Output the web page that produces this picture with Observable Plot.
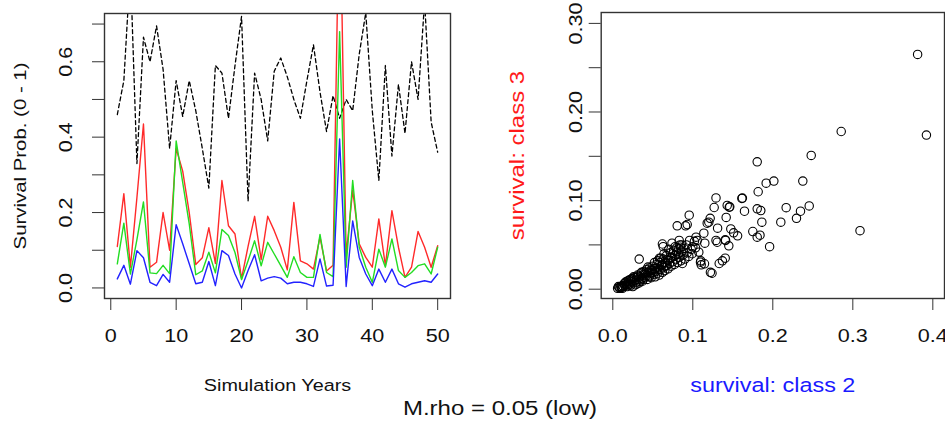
<!DOCTYPE html>
<html>
<head>
<meta charset="utf-8">
<script src="https://cdn.jsdelivr.net/npm/d3@7"></script>
<script src="https://cdn.jsdelivr.net/npm/@observablehq/plot@0.6"></script>
<style>
  html, body { margin: 0; padding: 0; background: #fff; }
  #wrap { position: relative; width: 945px; height: 423px; overflow: hidden; background: #fff;
          font-family: "Liberation Sans", Arial, sans-serif; }
  #wrap svg { position: absolute; top: 0; }
  #caption { position: absolute; left: 500px; top: 408px; font-size: 20px; color: #111;
             transform: translate(-50%, -50%) scaleX(1.2); white-space: nowrap; }
</style>
</head>
<body>
<div id="wrap"><div id="caption">M.rho = 0.05 (low)</div></div>
<script>
// ---------- data: left panel (time series) ----------
const years = [1,2,3,4,5,6,7,8,9,10,11,12,13,14,15,16,17,18,19,20,
               21,22,23,24,25,26,27,28,29,30,31,32,33,34,35,36,37,38,39,40,
               41,42,43,44,45,46,47,48,49,50];
const blackSeries = [0.46,0.55,0.85,0.33,0.665,0.60,0.695,0.58,0.37,0.55,
                     0.455,0.55,0.47,0.37,0.265,0.59,0.57,0.45,0.59,0.72,
                     0.23,0.57,0.50,0.39,0.575,0.61,0.56,0.50,0.45,0.55,
                     0.645,0.52,0.415,0.51,0.45,0.50,0.47,0.62,0.73,0.47,
                     0.285,0.59,0.35,0.54,0.41,0.60,0.50,0.76,0.44,0.36];
const redSeries = [0.11,0.25,0.055,0.24,0.435,0.055,0.068,0.20,0.10,0.37,
                   0.31,0.20,0.062,0.08,0.16,0.065,0.285,0.165,0.143,0.025,
                   0.11,0.19,0.075,0.19,0.152,0.108,0.048,0.227,0.072,0.064,
                   0.05,0.135,0.045,0.06,1.1,0.085,0.26,0.117,0.081,0.055,
                   0.183,0.059,0.205,0.108,0.028,0.055,0.15,0.108,0.055,0.112];
const greenSeries = [0.064,0.172,0.037,0.128,0.228,0.04,0.038,0.06,0.038,0.39,
                     0.28,0.17,0.035,0.045,0.095,0.04,0.155,0.139,0.094,0.022,
                     0.072,0.125,0.059,0.121,0.09,0.059,0.028,0.083,0.041,0.028,
                     0.028,0.142,0.041,0.03,0.68,0.055,0.285,0.108,0.055,0.015,
                     0.103,0.055,0.13,0.046,0.028,0.041,0.059,0.064,0.037,0.108];
const blueSeries = [0.024,0.06,0.01,0.099,0.08,0.015,0.006,0.036,0.015,0.168,
                    0.117,0.064,0.011,0.015,0.07,0.006,0.099,0.086,0.037,0.0,
                    0.046,0.088,0.019,0.026,0.03,0.026,0.011,0.015,0.015,0.011,
                    0.004,0.077,0.005,0.007,0.395,0.004,0.178,0.081,0.037,0.006,
                    0.05,0.015,0.05,0.011,0.002,0.011,0.015,0.019,0.015,0.037];

const leftXTicks = [0,10,20,30,40,50];
const leftYTicks = [0,0.1,0.2,0.3,0.4,0.5,0.6,0.7];
const leftYLabels = [0,0.2,0.4,0.6];

// ---------- data: right panel (scatter) ----------
const class2X = [0.381,0.392,0.2855,0.309,0.248,0.2375,0.2455,0.2346,0.2296,0.2167,
  0.21,0.2013,0.1917,0.1805,0.1817,0.1805,0.185,0.1863,0.175,0.1805,
  0.184,0.196,0.1646,0.1613,0.162,0.1455,0.1462,0.1417,0.1475,0.151,
  0.156,0.129,0.1267,0.131,0.129,0.1405,0.145,0.1405,0.133,0.124,
  0.1217,0.118,0.1138,0.115,0.1146,0.1105,0.104,0.102,0.0955,0.093,
  0.091,0.0805,0.1075,0.1034,0.0992,0.1096,0.063,0.074,0.0825,0.0584,
  0.033,0.143,0.12,0.1055,0.1305,0.141,0.062,0.122,0.137,0.11,0.0846,
  0.006,0.008,0.009,0.010,0.011,0.012,0.013,0.014,0.015,0.016,
  0.017,0.018,0.019,0.020,0.021,0.022,0.023,0.024,0.025,0.026,
  0.027,0.028,0.029,0.030,0.031,0.032,0.033,0.034,0.035,0.036,
  0.037,0.038,0.039,0.040,0.041,0.042,0.043,0.044,0.045,0.046,
  0.047,0.048,0.049,0.050,0.051,0.052,0.053,0.054,0.055,0.056,
  0.057,0.058,0.059,0.060,0.061,0.062,0.063,0.064,0.065,0.066,
  0.067,0.068,0.069,0.070,0.071,0.072,0.073,0.074,0.075,0.076,
  0.077,0.078,0.079,0.080,0.081,0.082,0.083,0.084,0.085,0.086,
  0.087,0.088,0.089,0.090,0.092,0.093,0.095,0.096,0.098,0.100,
  0.007,0.012,0.015,0.018,0.020,0.022,0.025,0.027,0.030,0.032,
  0.034,0.036,0.038,0.040,0.042,0.044,0.046,0.048,0.050,0.052,
  0.054,0.056,0.058,0.060,0.062,0.064,0.066,0.068,0.070,0.072,
  0.075,0.078,0.080,0.083,0.086];
const class3Y = [0.265,0.174,0.178,0.066,0.151,0.122,0.094,0.088,0.080,0.092,
  0.0756,0.122,0.1197,0.1438,0.11,0.0907,0.0888,0.0756,0.0651,0.0587,
  0.061,0.048,0.088,0.1024,0.1028,0.0925,0.093,0.081,0.068,0.0636,
  0.0602,0.103,0.0922,0.0689,0.055,0.0557,0.049,0.035,0.029,0.018,
  0.080,0.0745,0.0632,0.052,0.0287,0.0275,0.0587,0.054,0.0835,0.073,
  0.0715,0.0715,0.0418,0.0467,0.04,0.0305,0.048,0.052,0.0456,0.035,
  0.034,0.0945,0.0756,0.055,0.053,0.055,0.051,0.019,0.032,0.032,0.0474,
  0.001,0.002,0.001,0.003,0.002,0.004,0.003,0.006,0.004,0.008,
  0.005,0.003,0.007,0.010,0.006,0.004,0.009,0.012,0.007,0.014,
  0.010,0.005,0.008,0.013,0.016,0.011,0.007,0.014,0.018,0.012,
  0.009,0.016,0.020,0.013,0.017,0.022,0.011,0.019,0.015,0.024,
  0.018,0.013,0.021,0.026,0.017,0.023,0.014,0.020,0.028,0.018,
  0.024,0.016,0.030,0.022,0.027,0.019,0.034,0.025,0.021,0.030,
  0.038,0.027,0.023,0.033,0.029,0.041,0.026,0.036,0.031,0.044,
  0.028,0.038,0.034,0.047,0.030,0.040,0.036,0.050,0.032,0.043,
  0.029,0.039,0.046,0.034,0.050,0.041,0.037,0.055,0.045,0.048,
  0.003,0.001,0.007,0.009,0.005,0.011,0.003,0.013,0.006,0.015,
  0.009,0.019,0.011,0.018,0.015,0.025,0.014,0.022,0.019,0.030,
  0.024,0.032,0.022,0.035,0.028,0.040,0.026,0.033,0.045,0.035,
  0.040,0.048,0.042,0.055,0.050];

const rightXTicks = [0,0.1,0.2,0.3,0.4];
const rightYTicks = [0,0.05,0.1,0.15,0.2,0.25,0.3];
const rightYLabels = [0,0.1,0.2,0.3];

// ---------- rendering ----------
const FONT = "'Liberation Sans', Arial, sans-serif";
const INK = "#111";
const FRAME = "#333";
const STRETCH = 1.2;

// widen glyphs along the text direction (the reference font is wider than Arial)
function stretchText(svg, s) {
  svg.querySelectorAll("text").forEach(t => {
    if (!t.textContent.trim()) return;
    let tr = t.getAttribute("transform") || "";
    const x = t.getAttribute("x"), y = t.getAttribute("y");
    const num = v => v !== null && v !== "" && !/[a-z%]/i.test(v);
    if (num(x)) {
      if (num(y)) { tr += ` translate(${x},${y})`; t.removeAttribute("y"); }
      else tr += ` translate(${x},0)`;
      t.removeAttribute("x");
    } else if (num(y)) {
      tr += ` translate(0,${y})`; t.removeAttribute("y");
    }
    t.setAttribute("transform", (tr + ` scale(${s},1)`).trim());
  });
}

const left = Plot.plot({
  width: 470, height: 423,
  marginLeft: 104, marginRight: 20, marginTop: 13, marginBottom: 125,
  x: {domain: [-0.96, 51.96]},
  y: {domain: [-0.028, 0.728]},
  style: {fontFamily: FONT, color: INK, background: "transparent"},
  marks: [
    Plot.lineY(blackSeries, {x: years, stroke: "#000", strokeWidth: 1.3, strokeDasharray: "4,3", clip: true}),
    Plot.lineY(redSeries, {x: years, stroke: "#ff2a2a", strokeWidth: 1.4, clip: true}),
    Plot.lineY(greenSeries, {x: years, stroke: "#22dd22", strokeWidth: 1.4, clip: true}),
    Plot.lineY(blueSeries, {x: years, stroke: "#2222ff", strokeWidth: 1.4, clip: true}),
    Plot.frame({stroke: FRAME, strokeWidth: 1.4}),
    Plot.axisX({ticks: leftXTicks, tickSize: 12, tickFormat: () => "", label: null, stroke: FRAME}),
    Plot.axisY({ticks: leftYTicks, tickSize: 12, tickFormat: () => "", label: null, stroke: FRAME}),
    Plot.text(leftXTicks, {x: d => d, text: d => String(d), frameAnchor: "bottom", dy: 38,
                           lineAnchor: "middle", fontSize: 18, fill: INK}),
    Plot.text(leftYLabels, {y: d => d, text: d => d.toFixed(1), frameAnchor: "left", dx: -38,
                            rotate: -90, textAnchor: "middle", lineAnchor: "middle", fontSize: 18, fill: INK}),
    Plot.text(["Simulation Years"], {frameAnchor: "bottom", dy: 87, lineAnchor: "middle", fontSize: 16.5, fill: INK}),
    Plot.text(["Survival Prob. (0 - 1)"], {frameAnchor: "left", dx: -84, rotate: -90,
                                          textAnchor: "middle", lineAnchor: "middle", fontSize: 17, fill: INK})
  ]
});
left.style.left = "0px";
stretchText(left, STRETCH);

const right = Plot.plot({
  width: 475, height: 423,
  marginLeft: 130.7, marginRight: 1, marginTop: 12, marginBottom: 125,
  x: {domain: [-0.0145, 0.4146]},
  y: {domain: [-0.0105, 0.3123]},
  style: {fontFamily: FONT, color: INK, background: "transparent"},
  marks: [
    Plot.dot(class2X, {x: d => d, y: (d, i) => class3Y[i], r: 4.2, stroke: "#000", strokeWidth: 1.1, fill: "none"}),
    Plot.frame({stroke: FRAME, strokeWidth: 1.4}),
    Plot.axisX({ticks: rightXTicks, tickSize: 12, tickFormat: () => "", label: null, stroke: FRAME}),
    Plot.axisY({ticks: rightYTicks, tickSize: 12, tickFormat: () => "", label: null, stroke: FRAME}),
    Plot.text(rightXTicks, {x: d => d, text: d => d.toFixed(1), frameAnchor: "bottom", dy: 38,
                            lineAnchor: "middle", fontSize: 18, fill: INK}),
    Plot.text(rightYLabels, {y: d => d, text: d => d.toFixed(2), frameAnchor: "left", dx: -25,
                             rotate: -90, textAnchor: "middle", lineAnchor: "middle", fontSize: 18, fill: INK}),
    Plot.text(["survival: class 2"], {frameAnchor: "bottom", dy: 87, lineAnchor: "middle", fontSize: 19.5, fill: "#1a1aff"}),
    Plot.text(["survival: class 3"], {frameAnchor: "left", dx: -84, rotate: -90,
                                      textAnchor: "middle", lineAnchor: "middle", fontSize: 20, fill: "#ff1a1a"})
  ]
});
right.style.left = "470px";
stretchText(right, STRETCH);

const wrap = document.getElementById("wrap");
wrap.insertBefore(right, wrap.firstChild);
wrap.insertBefore(left, wrap.firstChild);
</script>
</body>
</html>
